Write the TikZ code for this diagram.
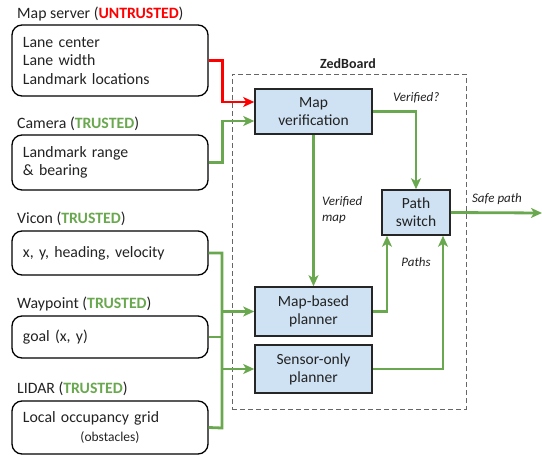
\documentclass[tikz,border=0pt]{standalone}
\usepackage{fontspec}
\setmainfont{Carlito}
\usetikzlibrary{arrows.meta,calc}
\definecolor{tgreen}{HTML}{6AA84F}
\definecolor{tred}{HTML}{FF0000}
\definecolor{bluefill}{HTML}{CFE2F3}
\definecolor{txt}{HTML}{222222}
\begin{document}
\begin{tikzpicture}[x=1pt,y=-1pt,
  every node/.style={text=txt},
  srcbox/.style={draw=black, line width=1.3pt, rounded corners=10pt, minimum width=196pt, text width=174pt, align=left, inner xsep=11pt, inner ysep=0pt, font=\fontsize{15.8}{18.5}\selectfont},
  srclabel/.style={anchor=west, inner sep=0pt, font=\fontsize{15.8}{16}\selectfont},
  procbox/.style={draw=black!85, line width=1.6pt, fill=bluefill, align=center, inner sep=0pt, font=\fontsize{15.5}{18}\selectfont},
  gline/.style={draw=tgreen, line width=2.8pt},
  garrow/.style={gline, -{Stealth[length=11pt,width=10pt,inset=3pt]}},
  rarrow/.style={draw=tred, line width=2.8pt, -{Stealth[length=11pt,width=10pt,inset=3pt]}},
  elabel/.style={font=\fontsize{13}{16}\selectfont\itshape, inner sep=0pt, align=left}
]
\useasboundingbox (0,0) rectangle (542,455);

% ZedBoard frame
\node[draw=black!60, line width=0.9pt, dash pattern=on 5pt off 3pt, minimum width=234pt, minimum height=335pt, inner sep=0pt] (zed) at (349,241.5) {};
\node[font=\fontsize{14}{16}\selectfont\bfseries, inner sep=0pt] (zedlabel) at (348,64) {ZedBoard};

% source labels
\node[srclabel] (l1) at (17,14) {Map server (\textcolor{tred}{\textbf{UNTRUSTED}})};
\node[srclabel] (l2) at (17,124) {Camera (\textcolor{tgreen}{\textbf{TRUSTED}})};
\node[srclabel] (l3) at (17,219) {Vicon (\textcolor{tgreen}{\textbf{TRUSTED}})};
\node[srclabel] (l4) at (17,304) {Waypoint (\textcolor{tgreen}{\textbf{TRUSTED}})};
\node[srclabel] (l5) at (17,389) {LIDAR (\textcolor{tgreen}{\textbf{TRUSTED}})};

% source boxes
\node[srcbox, minimum height=71pt] (b1) at (110,60.5) {Lane center\\Lane width\\Landmark locations};
\node[srcbox, minimum height=55pt] (b2) at (110,162.5) {Landmark range\\\& bearing};
\node[srcbox, minimum height=44pt] (b3) at (110,253) {x, y, heading, velocity};
\node[srcbox, minimum height=42pt] (b4) at (110,337) {goal (x, y)};
\node[srcbox, minimum height=53pt] (b5) at (110,427.5) {Local occupancy grid\\\makebox[174pt]{\fontsize{13.5}{14}\selectfont(obstacles)}};

% processing boxes
\node[procbox, minimum width=117pt, minimum height=45pt] (mv) at (313.5,111.5) {Map\\verification};
\node[procbox, minimum width=68pt, minimum height=45pt] (ps) at (416,212.5) {Path\\switch};
\node[procbox, minimum width=117pt, minimum height=49pt] (mbp) at (313.5,311.5) {Map-based\\planner};
\node[procbox, minimum width=117pt, minimum height=48pt] (sop) at (313.5,369) {Sensor-only\\planner};

% coordinates
\coordinate (busTop) at (222,253);
\coordinate (busBot) at (222,428);
\coordinate (out) at (542,213);

% connectors
\draw[rarrow] (b1.east) -- ++(14,0) |- ([yshift=9.5pt]mv.west);
\draw[garrow] (b2.east) -- ++(14,0) |- ([yshift=-9.5pt]mv.west);
\draw[gline] (b3.east) -- (busTop) -- (busBot) -- (b5.east);
\draw[gline] (b4.east) -- (b4.east -| busTop);
\draw[garrow] (mbp.west -| busTop) -- (mbp.west);
\draw[garrow] (sop.west -| busTop) -- (sop.west);

\draw[garrow] (mv.east) -| (ps.north);
\draw[garrow] (mv.south) -- (mbp.north);
\draw[garrow] (mbp.east) -| ([xshift=-29pt]ps.south);
\draw[garrow] (sop.east) -| ([xshift=27pt]ps.south);
\draw[garrow] (ps.east) -- (out);

% edge labels
\node[elabel, anchor=west] (lv) at (393,98) {Verified?};
\node[elabel, anchor=west] (lvm) at (322,210) {Verified\\map};
\node[elabel] (lp) at (416,262) {Paths};
\node[elabel] (lsp) at (497,199) {Safe path};
\end{tikzpicture}
\end{document}
